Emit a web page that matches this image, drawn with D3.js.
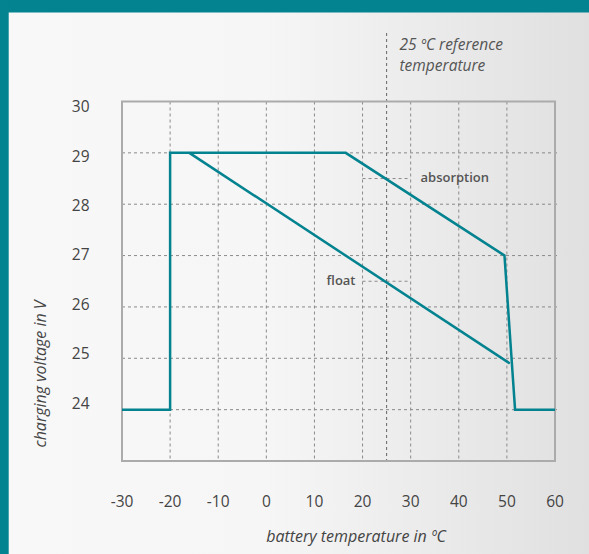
<!DOCTYPE html>
<html>
<head>
<meta charset="utf-8">
<script src="https://cdn.jsdelivr.net/npm/d3@7"></script>
<style>
  html, body { margin: 0; padding: 0; background: #f7f7f7; }
  svg { display: block; font-family: "Open Sans", sans-serif; }
</style>
</head>
<body>
<svg id="chart" width="589" height="554"></svg>
<script>
// ---- data ----
const xTicks = [-30, -20, -10, 0, 10, 20, 30, 40, 50, 60];
const yTicks = [24, 25, 26, 27, 28, 29, 30];
const xGrid = [-20, -10, 0, 10, 20, 30, 40, 50];
const yGrid = [24, 25, 26, 27, 28, 29];
const absorptionTemp = [-30, -20, -20, 16.5, 49.5, 51.7, 60];
const absorptionVolt = [24, 24, 29, 29, 27, 24, 24];
const floatTemp = [-16, 50.6];
const floatVolt = [29, 24.9];
const referenceTemp = 25;
const referenceLines = ["25 ºC reference", "temperature"];
const connectorTemp = [20, 30];
const absorptionLabelVolt = 28.5;
const floatLabelVolt = 26.5;

const W = 589, H = 554;
const teal = "#03828f";
const svg = d3.select("#chart");

// background
const defs = svg.append("defs");
const grad = defs.append("linearGradient").attr("id", "bg").attr("x1", 0).attr("x2", 1).attr("y1", 0).attr("y2", 0);
grad.append("stop").attr("offset", "0%").attr("stop-color", "#f8f8f8");
grad.append("stop").attr("offset", "45%").attr("stop-color", "#f6f6f6");
grad.append("stop").attr("offset", "100%").attr("stop-color", "#e0e0e0");
svg.append("rect").attr("width", W).attr("height", H).attr("fill", "url(#bg)");
svg.append("rect").attr("x", 0).attr("y", 0).attr("width", W).attr("height", 12.5).attr("fill", teal);
svg.append("rect").attr("x", 0).attr("y", 0).attr("width", 8.7).attr("height", H).attr("fill", teal);

// scales
const x = d3.scaleLinear().domain([-30, 60]).range([122, 555]);
const y = d3.scaleLinear().domain([23, 30]).range([461, 101.5]);
const yLabel = d3.scaleLinear().domain([24, 30]).range([403, 106.7]);

// grid
const gridColor = "#8a8a8a";
svg.append("g").selectAll("line").data(xGrid).join("line")
  .attr("x1", d => x(d)).attr("x2", d => x(d))
  .attr("y1", y(30)).attr("y2", y(23))
  .attr("stroke", gridColor).attr("stroke-width", 1).attr("stroke-dasharray", "3,3");
svg.append("g").selectAll("line").data(yGrid).join("line")
  .attr("x1", x(-30)).attr("x2", x(60) + 2)
  .attr("y1", d => y(d)).attr("y2", d => y(d))
  .attr("stroke", gridColor).attr("stroke-width", 1).attr("stroke-dasharray", "3,3");

// reference line
svg.append("line")
  .attr("x1", x(referenceTemp)).attr("x2", x(referenceTemp))
  .attr("y1", 33).attr("y2", y(23))
  .attr("stroke", "#666").attr("stroke-width", 1).attr("stroke-dasharray", "3,3");

// connectors
[absorptionLabelVolt, floatLabelVolt].forEach(v => {
  svg.append("line")
    .attr("x1", x(connectorTemp[0])).attr("x2", x(connectorTemp[1]))
    .attr("y1", y(v)).attr("y2", y(v))
    .attr("stroke", gridColor).attr("stroke-width", 1).attr("stroke-dasharray", "3,3");
});

// box
svg.append("rect")
  .attr("x", x(-30)).attr("y", y(30))
  .attr("width", x(60) - x(-30)).attr("height", y(23) - y(30))
  .attr("fill", "none").attr("stroke", "#ababab").attr("stroke-width", 2);

// lines
const line = d3.line().x(d => x(d[0])).y(d => y(d[1]));
svg.append("path")
  .datum(absorptionTemp.map((t, i) => [t, absorptionVolt[i]]))
  .attr("d", line).attr("fill", "none").attr("stroke", teal).attr("stroke-width", 2.5)
  .attr("stroke-linejoin", "miter");
svg.append("path")
  .datum(floatTemp.map((t, i) => [t, floatVolt[i]]))
  .attr("d", line).attr("fill", "none").attr("stroke", teal).attr("stroke-width", 2.5);

// tick labels
svg.append("g").selectAll("text").data(yTicks).join("text")
  .attr("x", 89.5).attr("y", d => yLabel(d)).attr("dy", "0.36em")
  .attr("text-anchor", "end").attr("font-size", 15.5).attr("fill", "#444")
  .text(d => d);
svg.append("g").selectAll("text").data(xTicks).join("text")
  .attr("x", d => x(d)).attr("y", 507)
  .attr("text-anchor", "middle").attr("font-size", 15.5).attr("fill", "#444")
  .text(d => d);

// axis titles
svg.append("text")
  .attr("x", 356).attr("y", 542)
  .attr("text-anchor", "middle").attr("font-size", 16).attr("font-style", "italic").attr("fill", "#444")
  .text("battery temperature in ºC");
svg.append("text")
  .attr("transform", "translate(45.5,374) rotate(-90)")
  .attr("text-anchor", "middle").attr("font-size", 16).attr("font-style", "italic").attr("fill", "#444")
  .text("charging voltage in V");

// reference annotation (two lines)
svg.append("g").selectAll("text").data(referenceLines).join("text")
  .attr("x", 399.5).attr("y", (d, i) => 50 + i * 21)
  .attr("font-size", 15.5).attr("font-style", "italic").attr("fill", "#555")
  .text(d => d);

// series labels
svg.append("text")
  .attr("x", 420.5).attr("y", y(absorptionLabelVolt)).attr("dy", "0.3em")
  .attr("font-size", 13).attr("font-weight", 600).attr("fill", "#555")
  .text("absorption");
svg.append("text")
  .attr("x", 355.5).attr("y", y(floatLabelVolt)).attr("dy", "0.3em")
  .attr("text-anchor", "end")
  .attr("font-size", 13).attr("font-weight", 600).attr("fill", "#555")
  .text("float");
</script>
</body>
</html>
